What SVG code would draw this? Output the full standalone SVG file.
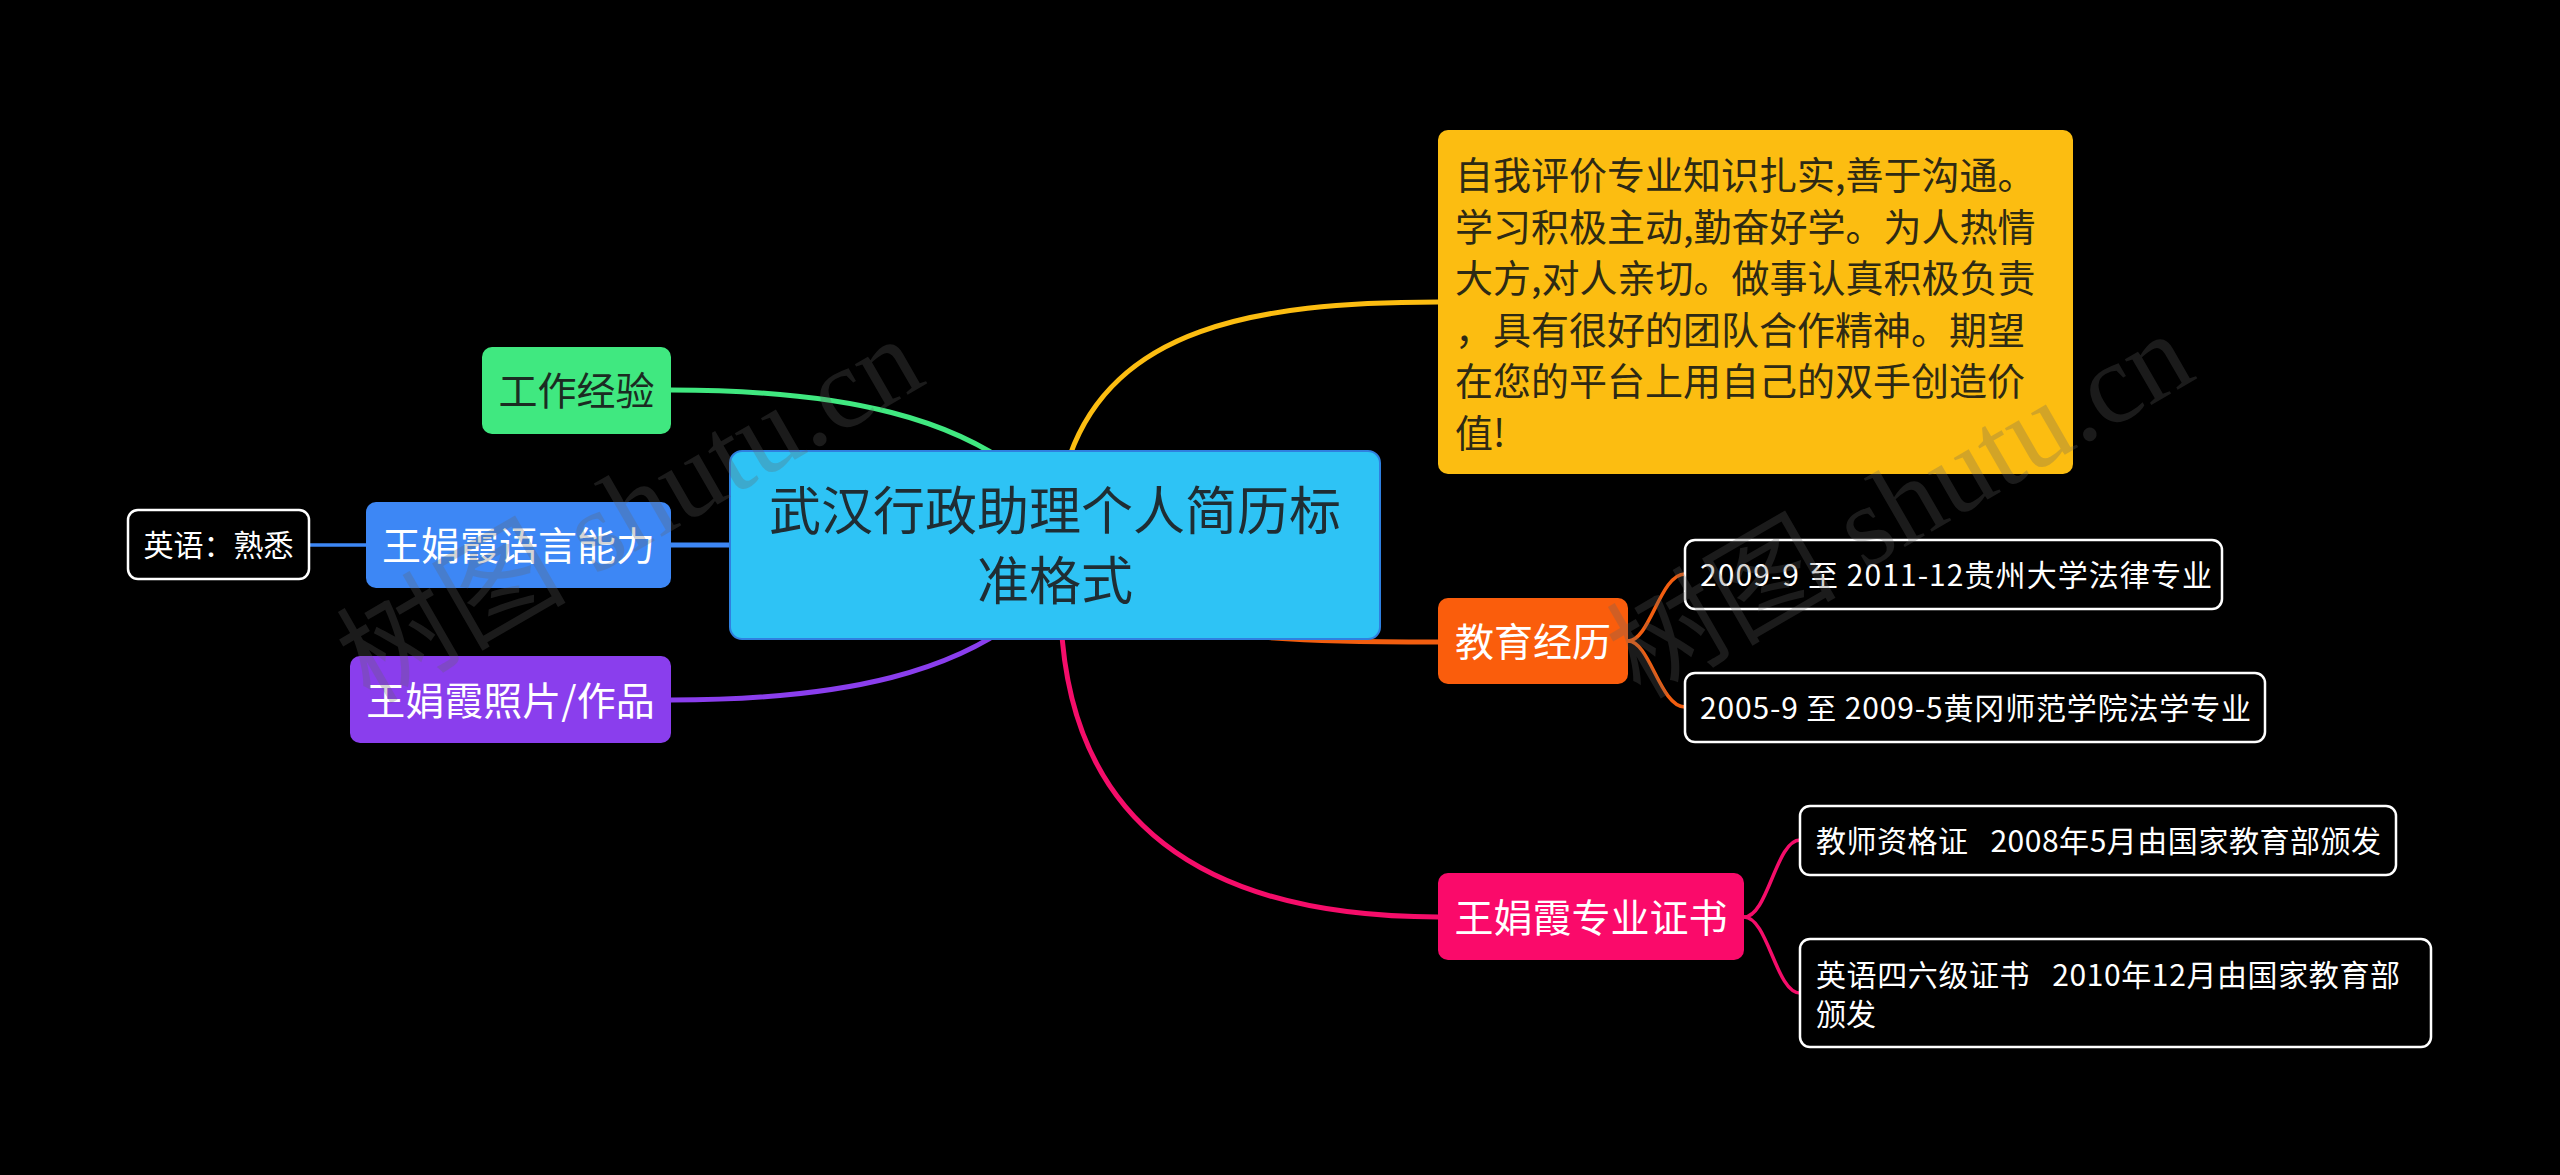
<svg xmlns="http://www.w3.org/2000/svg" width="2560" height="1175" viewBox="0 0 2560 1175">
<style>
.t{font-family:"Noto Sans CJK SC","Noto Sans",sans-serif;}
.c{fill:none;stroke-linecap:round;}
.main{stroke-width:5;}
.sub{stroke-width:3.5;}
.leaf{fill:#000;stroke:#fff;stroke-width:2.5;}
.lt{font-size:30px;fill:#fff;}
.nt{font-size:39px;text-anchor:middle;}
.wm{font-family:"Liberation Serif","Noto Sans CJK SC",serif;font-size:115px;fill:#646464;opacity:0.27;}
</style>
<rect x="0" y="0" width="2560" height="1175" fill="#000"/>
<g id="connectors">
<path class="c main" stroke="#40e880" d="M 671 390 C 850 390, 960 420, 1030 480"/>
<path class="c main" stroke="#3d87f5" d="M 671 545 H 800"/>
<path class="c sub" stroke="#3d87f5" d="M 309 545 H 366"/>
<path class="c main" stroke="#8a3eed" d="M 671 700 C 850 700, 960 670, 1030 610"/>
<path class="c main" stroke="#fcbd11" d="M 1072 480 L 1070 455 C 1115 330, 1250 302, 1438 302"/>
<path class="c main" stroke="#f25e10" d="M 1055 600 C 1200 640, 1300 642, 1438 642"/>
<path class="c main" stroke="#f50d6a" d="M 1061 620 C 1070 820, 1200 917, 1438 917"/>
<path class="c sub" stroke="#f25e10" d="M 1628 641 C 1650 641, 1660 574, 1685 574"/>
<path class="c sub" stroke="#f25e10" d="M 1628 641 C 1650 641, 1660 707, 1685 707"/>
<path class="c sub" stroke="#f50d6a" d="M 1744 917 C 1768 917, 1776 840, 1800 840"/>
<path class="c sub" stroke="#f50d6a" d="M 1744 917 C 1768 917, 1776 993, 1800 993"/>
</g>
<g id="center">
<rect x="730" y="451" width="650" height="188" rx="12" fill="#2ec3f5" stroke="#2f80e0" stroke-width="2"/>
<text class="t" x="1055" y="530" font-size="52" text-anchor="middle" fill="#1f2d33">武汉行政助理个人简历标</text>
<text class="t" x="1055" y="600" font-size="52" text-anchor="middle" fill="#1f2d33">准格式</text>
</g>
<g id="work">
<rect x="482" y="347" width="189" height="87" rx="10" fill="#40e880"/>
<text class="t nt" x="576.5" y="405" fill="#1b2b22">工作经验</text>
</g>
<g id="lang">
<rect x="366" y="502" width="305" height="86" rx="10" fill="#3d87f5"/>
<text class="t nt" x="518.5" y="560" fill="#fff">王娟霞语言能力</text>
</g>
<g id="lang-en">
<rect class="leaf" x="128" y="510" width="181" height="69" rx="10"/>
<text class="t lt" x="218.5" y="556" text-anchor="middle">英语：熟悉</text>
</g>
<g id="photo">
<rect x="350" y="656" width="321" height="87" rx="10" fill="#8a3eed"/>
<text class="t nt" x="510.5" y="714.5" fill="#fff">王娟霞照片/作品</text>
</g>
<g id="self">
<rect x="1438" y="130" width="635" height="344" rx="10" fill="#fcbd11"/>
<g class="t" font-size="38" fill="#2e2a14">
<text x="1455" y="189">自我评价专业知识扎实,善于沟通。</text>
<text x="1455" y="240.5">学习积极主动,勤奋好学。为人热情</text>
<text x="1455" y="292">大方,对人亲切。做事认真积极负责</text>
<text x="1455" y="343.5">，具有很好的团队合作精神。期望</text>
<text x="1455" y="395">在您的平台上用自己的双手创造价</text>
<text x="1455" y="446.5">值!</text>
</g>
</g>
<g id="edu">
<rect x="1438" y="598" width="190" height="86" rx="10" fill="#fa5d0c"/>
<text class="t nt" x="1533" y="656" fill="#fff">教育经历</text>
</g>
<g id="edu-1">
<rect class="leaf" x="1685" y="540" width="537" height="69" rx="10"/>
<text class="t lt" x="1700" y="586" textLength="512" lengthAdjust="spacing">2009-9 至 2011-12贵州大学法律专业</text>
</g>
<g id="edu-2">
<rect class="leaf" x="1685" y="673" width="580" height="69" rx="10"/>
<text class="t lt" x="1700" y="719" textLength="551" lengthAdjust="spacing">2005-9 至 2009-5黄冈师范学院法学专业</text>
</g>
<g id="cert">
<rect x="1438" y="873" width="306" height="87" rx="10" fill="#fa0a6a"/>
<text class="t nt" x="1591" y="931.5" fill="#fff">王娟霞专业证书</text>
</g>
<g id="cert-1">
<rect class="leaf" x="1800" y="806" width="596" height="69" rx="10"/>
<text class="t lt" x="1816" y="852" xml:space="preserve" textLength="565" lengthAdjust="spacing">教师资格证   2008年5月由国家教育部颁发</text>
</g>
<g id="cert-2">
<rect class="leaf" x="1800" y="939" width="631" height="108" rx="10"/>
<text class="t lt" x="1816" y="986" xml:space="preserve" textLength="584" lengthAdjust="spacing">英语四六级证书   2010年12月由国家教育部</text>
<text class="t lt" x="1816" y="1025">颁发</text>
</g>
<g id="watermarks">
<text class="wm" x="370" y="705" transform="rotate(-30 370 705)">树图 shutu.cn</text>
<text class="wm" x="1640" y="700" transform="rotate(-30 1640 700)">树图 shutu.cn</text>
</g>
</svg>
